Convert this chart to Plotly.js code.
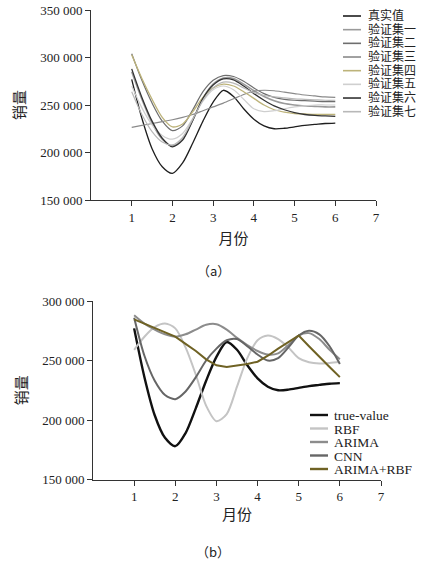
<!DOCTYPE html>
<html>
<head>
<meta charset="utf-8">
<script src="https://cdn.plot.ly/plotly-3.0.1.min.js"></script>
<style>html,body{margin:0;padding:0;background:#fff;}#chart{width:427px;height:562px;}</style>
</head>
<body>
<div id="chart"></div>
<script>
// ---------- data ----------
const months = [1, 1.25, 1.5, 1.75, 2, 2.25, 2.5, 2.75, 3, 3.25, 3.5, 3.75, 4, 4.25, 4.5, 4.75, 5, 5.25, 5.5, 5.75, 6];
const xTicks = [1, 2, 3, 4, 5, 6, 7];

// (a) validation sets
const trueValue = [277000, 236000, 204000, 185000, 178000, 189000, 210000, 233000, 253000, 265500, 259000, 246000, 235000, 228000, 225000, 225500, 227000, 228500, 229500, 230500, 231000];
const val1 = [285000, 256000, 231000, 214000, 207000, 214000, 234000, 257000, 272000, 278500, 278000, 272000, 265000, 259000, 254500, 251500, 250000, 249000, 248500, 248000, 248000];
const val2 = [304000, 276000, 252000, 233000, 223000, 228000, 245000, 264000, 276000, 281000, 280000, 275000, 268000, 262000, 258000, 256000, 255000, 254500, 254000, 253500, 253500];
const val3 = [226500, 228500, 230500, 232500, 234500, 237000, 240000, 244000, 248000, 252000, 256500, 261000, 264500, 265500, 265000, 263500, 262000, 260500, 259500, 258500, 258000];
const val4 = [303000, 278000, 256000, 237000, 227000, 230000, 243000, 258000, 268000, 272000, 270000, 264000, 257000, 250000, 245000, 242500, 241000, 240500, 240000, 240000, 240000];
const val5 = [270000, 247000, 229000, 218000, 214000, 220000, 236000, 254000, 266000, 270000, 266000, 256000, 246000, 243000, 244000, 246000, 248000, 249000, 250000, 250000, 250000];
const val6 = [288000, 258000, 233000, 215000, 206000, 213000, 234000, 257000, 271000, 277500, 276500, 270000, 262000, 255000, 249000, 245000, 242000, 240000, 239000, 238500, 238000];
const val7 = [264000, 240000, 222000, 211000, 208000, 216000, 235000, 255000, 268000, 274000, 273000, 268000, 263000, 260000, 258500, 257500, 256500, 256000, 255500, 255000, 255000];

// (b) model comparison
const rbf = [259000, 270000, 278000, 281000, 277000, 261000, 238000, 212000, 199000, 205000, 228000, 252000, 267000, 271000, 268000, 261000, 252000, 248500, 247500, 248000, 249000];
const arima = [288000, 281000, 276000, 272000, 270000, 272000, 276000, 280000, 280500, 276000, 269000, 263000, 258000, 255000, 256000, 263000, 271000, 273000, 268000, 259000, 251000];
const cnn = [286000, 254000, 233000, 221000, 217500, 224000, 236000, 250000, 260000, 267000, 268000, 262000, 255000, 250000, 252000, 261000, 271000, 275000, 272000, 262000, 247000];
const arimaRbf = [284500, 281000, 277000, 273500, 270000, 264000, 258000, 251000, 246000, 244500, 245500, 247000, 249000, 254000, 260000, 265500, 271000, 262000, 253000, 244500, 236000];

const namesA = ['真实值', '验证集一', '验证集二', '验证集三', '验证集四', '验证集五', '验证集六', '验证集七'];
const seriesA = [trueValue, val1, val2, val3, val4, val5, val6, val7];
const namesB = ['true-value', 'RBF', 'ARIMA', 'CNN', 'ARIMA+RBF'];
const seriesB = [trueValue, rbf, arima, cnn, arimaRbf];

const yTicksA = [150000, 200000, 250000, 300000, 350000];
const yTickTextA = ['150 000', '200 000', '250 000', '300 000', '350 000'];
const yTicksB = [150000, 200000, 250000, 300000];
const yTickTextB = ['150 000', '200 000', '250 000', '300 000'];
const xTitle = '月份';
const yTitle = '销量';
const panelLabels = ['（a）', '（b）'];

// ---------- styles ----------
const W = 427, H = 562;
const serif = 'Liberation Serif, Noto Sans CJK SC, serif';
const cjk = 'Noto Sans CJK SC, Noto Sans, sans-serif';
const ink = '#222';
const colorsA = ['#1e1e1e', '#9a9a9a', '#6e6e6e', '#8a8a8a', '#bdb37a', '#cfcfcf', '#333333', '#b8b8b8'];
const widthsA = [1.3, 1.6, 1.2, 1.2, 1.3, 1.2, 1.3, 1.2];
const colorsB = ['#111111', '#c4c4c4', '#8c8c8c', '#666666', '#6f6224'];
const widthsB = [2.4, 2, 2, 2, 2];
const shapesB = ['spline', 'spline', 'spline', 'spline', 'linear'];

const px = v => v / W;
const py = v => 1 - v / H;

const traces = [];
seriesA.forEach((s, i) => traces.push({
  x: months, y: s, type: 'scatter', mode: 'lines', name: namesA[i],
  xaxis: 'x', yaxis: 'y', showlegend: false,
  line: {color: colorsA[i], width: widthsA[i], shape: 'spline', smoothing: 0.8}
}));
seriesB.forEach((s, i) => traces.push({
  x: months, y: s, type: 'scatter', mode: 'lines', name: namesB[i],
  xaxis: 'x2', yaxis: 'y2', showlegend: false,
  line: {color: colorsB[i], width: widthsB[i], shape: shapesB[i], smoothing: 0.8}
}));

// compact legends (line samples as shapes, labels as one multi-line text block)
const shapes = [], annotations = [];
const stepA = 13.67, topA = 16;
namesA.forEach((n, i) => {
  const yy = topA + i * stepA;
  shapes.push({type: 'line', xref: 'paper', yref: 'paper', x0: px(343), x1: px(361), y0: py(yy), y1: py(yy),
    line: {color: colorsA[i], width: 1.6}});
});
annotations.push({xref: 'paper', yref: 'paper', x: px(367), y: py(topA + 3.5 * stepA), xanchor: 'left', yanchor: 'middle',
  align: 'left', borderpad: 0,
  text: namesA.map(n => '<span style="font-size:12px">' + n + '</span>').join('<br>'),
  showarrow: false, font: {family: serif, size: stepA / 1.3, color: ink}});

const stepB = 13.5, topB = 415;
namesB.forEach((n, i) => {
  const yy = topB + i * stepB;
  shapes.push({type: 'line', xref: 'paper', yref: 'paper', x0: px(310), x1: px(328), y0: py(yy), y1: py(yy),
    line: {color: colorsB[i], width: 2.4}});
});
annotations.push({xref: 'paper', yref: 'paper', x: px(333), y: py(topB + 2 * stepB), xanchor: 'left', yanchor: 'middle',
  align: 'left', borderpad: 0,
  text: namesB.map(n => '<span style="font-size:13.5px">' + n + '</span>').join('<br>'),
  showarrow: false, font: {family: serif, size: stepB / 1.3, color: ink}});

annotations.push({xref: 'paper', yref: 'paper', x: px(213), y: py(270), xanchor: 'center', yanchor: 'middle',
  text: panelLabels[0], showarrow: false, font: {family: cjk, size: 13, color: ink}});
annotations.push({xref: 'paper', yref: 'paper', x: px(213), y: py(551), xanchor: 'center', yanchor: 'middle',
  text: panelLabels[1], showarrow: false, font: {family: cjk, size: 13, color: ink}});

function axisBase() {
  return {
    showline: true, linecolor: '#333', linewidth: 1, ticks: 'outside', ticklen: 5, tickwidth: 1, tickcolor: '#333',
    showgrid: false, zeroline: false, tickfont: {family: serif, size: 13, color: ink}, fixedrange: true
  };
}

const layout = {
  width: W, height: H, margin: {l: 0, r: 0, t: 0, b: 0}, paper_bgcolor: '#fff', plot_bgcolor: '#fff',
  showlegend: false,
  font: {family: serif, size: 13, color: ink},
  xaxis: Object.assign(axisBase(), {domain: [px(91), px(376)], range: [0, 7], tickvals: xTicks, anchor: 'y',
    title: {text: xTitle, font: {family: cjk, size: 15, color: ink}, standoff: 9}}),
  yaxis: Object.assign(axisBase(), {domain: [py(200), py(10)], range: [150000, 350000], tickvals: yTicksA, ticktext: yTickTextA, anchor: 'x',
    title: {text: yTitle, font: {family: cjk, size: 15, color: ink}, standoff: 10}}),
  xaxis2: Object.assign(axisBase(), {domain: [px(93), px(381)], range: [0, 7], tickvals: xTicks, anchor: 'y2',
    title: {text: xTitle, font: {family: cjk, size: 15, color: ink}, standoff: 6}}),
  yaxis2: Object.assign(axisBase(), {domain: [py(479.5), py(301)], range: [150000, 300000], tickvals: yTicksB, ticktext: yTickTextB, anchor: 'x2',
    title: {text: yTitle, font: {family: cjk, size: 15, color: ink}, standoff: 10}}),
  shapes: shapes, annotations: annotations
};

Plotly.newPlot('chart', traces, layout, {staticPlot: true, displayModeBar: false});
</script>
</body>
</html>
